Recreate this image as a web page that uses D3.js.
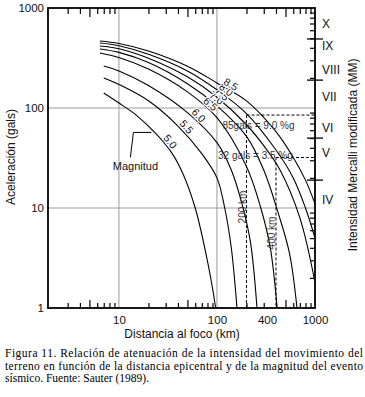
<!DOCTYPE html>
<html>
<head>
<meta charset="utf-8">
<script src="https://cdn.jsdelivr.net/npm/d3@7"></script>
<style>
  body { margin: 0; background: #fff; }
  svg { display: block; font-family: Arial, "Liberation Sans", sans-serif; }
</style>
</head>
<body>
<svg id="drawing_region"></svg>
<script>
// magnitude curves, [distance km, acceleration gals]
const magnitudes = ['5.0', '5.5', '6.0', '6.5', '7.0', '7.5', '8.0', '8.5'];
const m50 = [[7,141],[10,112],[15,85],[24,55],[35,35],[45,22],[60,10],[75,4],[88,1.8],[97,1]];
const m55 = [[7,200],[10,172],[20,118],[40,66],[70,35],[100,20],[120,10],[140,4],[160,1]];
const m60 = [[7,263],[10,235],[20,168],[50,90],[100,45],[140,24],[180,11],[220,4.5],[256,1]];
const m65 = [[6.4,355],[10,320],[20,245],[50,145],[100,80],[200,26],[280,10],[350,4],[411,1]];
const m70 = [[6.4,389],[10,360],[20,285],[50,175],[100,105],[200,52],[300,24],[420,9],[550,3.5],[655,1]];
const m75 = [[6.4,417],[10,392],[20,315],[50,205],[100,128],[200,68],[300,42],[440,24],[700,8],[1000,1.8]];
const m80 = [[6.4,447],[10,420],[20,345],[50,235],[100,152],[200,88],[400,38],[600,20],[800,10],[1000,5]];
const m85 = [[6.4,467],[10,442],[20,372],[50,262],[100,178],[200,118],[400,58],[600,32],[800,19],[1000,11]];
const curves = [m50, m55, m60, m65, m70, m75, m80, m85];

// axes
const yTicks = [1, 10, 100, 1000];
const xTickLabels = [10, 100, 400, 1000];
const gridKm = [10, 100];
const gridGals = [10, 100];

// Mercalli scale on the right
const mmLabels = ['X', 'IX', 'VIII', 'VII', 'VI', 'V', 'IV'];
const mmLabelGals = [700, 420, 240, 130, 63, 36, 12];
const mmBoundGals = [490, 190, 50, 19];

// dashed reference lines
const refKm = [200, 400];
const refGals = [85, 32];
const refText = ['85gals = 9.0 %g', '32 gals = 3.5 %g'];
const refKmText = ['200  km', '400  km'];

const caption = [
    'Figura 11. Relación de atenuación de la intensidad del movimiento del',
    'terreno en función de la distancia epicentral y de la magnitud del evento',
    'sísmico. Fuente: Sauter (1989).'
];

const svg = d3.select('#drawing_region')
    .attr('width', 365)
    .attr('height', 397);

const box = {left: 48, right: 315, top: 8, bottom: 308};

const x = d3.scaleLog().domain([1.89, 1000]).range([box.left, box.right]);
const y = d3.scaleLog().domain([1, 1000]).range([box.bottom, box.top]);

svg.append('defs').append('clipPath').attr('id', 'plotclip')
    .append('rect')
    .attr('x', box.left).attr('y', box.top)
    .attr('width', box.right - box.left).attr('height', box.bottom - box.top);

// grid
svg.append('g').selectAll('line').data(gridKm).enter().append('line')
    .attr('x1', d => x(d)).attr('x2', d => x(d))
    .attr('y1', box.top).attr('y2', box.bottom)
    .attr('stroke', '#9a9a9a').attr('stroke-width', 1);
svg.append('g').selectAll('line').data(gridGals).enter().append('line')
    .attr('y1', d => y(d)).attr('y2', d => y(d))
    .attr('x1', box.left).attr('x2', box.right)
    .attr('stroke', '#9a9a9a').attr('stroke-width', 1);

// minor ticks (the 5s are a bit longer)
const minorX = x.ticks().filter(d => d >= 3 && Math.log10(d) % 1 !== 0);
const minorY = y.ticks().filter(d => Math.log10(d) % 1 !== 0);
const isFive = d => Math.abs(d / Math.pow(10, Math.floor(Math.log10(d))) - 5) < 1e-6;

const bottomMinor = svg.append('g')
    .attr('transform', `translate(0, ${box.bottom})`)
    .call(d3.axisBottom(x).tickValues(minorX).tickSize(-5).tickFormat(''));
bottomMinor.selectAll('.tick line').filter(isFive).attr('y2', -8);

const topMinor = svg.append('g')
    .attr('transform', `translate(0, ${box.top})`)
    .call(d3.axisTop(x).tickValues(minorX).tickSize(-6).tickFormat(''));
topMinor.selectAll('.tick line').filter(isFive).attr('y2', 9);

svg.append('g')
    .attr('transform', `translate(${box.right}, 0)`)
    .call(d3.axisRight(y).tickValues(minorY).tickSize(-5).tickFormat(''));

svg.selectAll('.tick line').attr('stroke', '#000').attr('stroke-width', 1.2);
svg.selectAll('.domain').remove();

// tick labels
const xLab = svg.append('g')
    .attr('transform', `translate(0, ${box.bottom})`)
    .call(d3.axisBottom(x).tickValues(xTickLabels).tickSize(0).tickPadding(8).tickFormat(d3.format('d')));
xLab.select('.domain').remove();
xLab.selectAll('text').attr('font-size', 11.5).attr('fill', '#111')
    .attr('font-family', 'Arial, "Liberation Sans", sans-serif')
    .attr('dx', d => d === 400 ? -9 : 0);

const yLab = svg.append('g')
    .attr('transform', `translate(${box.left}, 0)`)
    .call(d3.axisLeft(y).tickValues(yTicks).tickSize(0).tickPadding(4).tickFormat(d3.format('d')));
yLab.select('.domain').remove();
yLab.selectAll('text').attr('font-size', 11.5).attr('fill', '#111')
    .attr('font-family', 'Arial, "Liberation Sans", sans-serif');

// Mercalli boundaries and labels
svg.append('g').selectAll('line').data(mmBoundGals).enter().append('line')
    .attr('x1', box.right - 8).attr('x2', box.right + 8)
    .attr('y1', d => y(d)).attr('y2', d => y(d))
    .attr('stroke', '#000').attr('stroke-width', 1.3);
svg.append('g').selectAll('text').data(mmLabels).enter().append('text')
    .attr('x', box.right + 7)
    .attr('y', (d, i) => y(mmLabelGals[i]))
    .attr('dy', '0.35em')
    .attr('font-size', 12)
    .attr('fill', '#111')
    .text(d => d);

// frame
svg.append('rect')
    .attr('x', box.left).attr('y', box.top)
    .attr('width', box.right - box.left).attr('height', box.bottom - box.top)
    .attr('fill', 'none').attr('stroke', '#000').attr('stroke-width', 1.8);

// dashed reference lines
const refs = svg.append('g').attr('clip-path', 'url(#plotclip)');
refKm.forEach((km, i) => {
    refs.append('line')
        .attr('x1', x(km)).attr('x2', x(km))
        .attr('y1', y(refGals[i])).attr('y2', y(1))
        .attr('stroke', '#000').attr('stroke-width', 1).attr('stroke-dasharray', '3,2');
    refs.append('line')
        .attr('x1', x(km)).attr('x2', x(1000))
        .attr('y1', y(refGals[i])).attr('y2', y(refGals[i]))
        .attr('stroke', '#000').attr('stroke-width', 1).attr('stroke-dasharray', '3,2');
});

// curves
const line = d3.line()
    .x(d => x(d[0]))
    .y(d => y(d[1]))
    .curve(d3.curveCatmullRom.alpha(0.5));

svg.append('g').attr('clip-path', 'url(#plotclip)')
    .selectAll('path').data(curves).enter().append('path')
    .attr('d', line)
    .attr('fill', 'none')
    .attr('stroke', '#000')
    .attr('stroke-width', 1.1);

// reference texts
refText.forEach((t, i) => {
    svg.append('text')
        .attr('x', i === 0 ? x(refKm[i]) - 24 : x(refKm[i]) - 58)
        .attr('y', i === 0 ? y(refGals[i]) + 14 : y(refGals[i]) + 2)
        .attr('font-size', 10)
        .attr('fill', '#333')
        .text(t);
});
refKmText.forEach((t, i) => {
    const cx = x(refKm[i]) - 4;
    const cy = i === 0 ? 207 : 233;
    svg.append('text')
        .attr('transform', `translate(${cx}, ${cy}) rotate(-90)`)
        .attr('text-anchor', 'middle')
        .attr('dy', '0.35em')
        .attr('font-size', 10)
        .attr('fill', '#333')
        .text(t);
});

// magnitude labels, placed where each curve meets a diagonal guide
const g0 = [165, 146], g1 = [245, 74];
function guideHit(pts) {
    const e = [g1[0] - g0[0], g1[1] - g0[1]];
    for (let i = 0; i < pts.length - 1; i++) {
        const p = pts[i], q = pts[i + 1];
        const d = [q[0] - p[0], q[1] - p[1]];
        const den = d[0] * e[1] - d[1] * e[0];
        if (den === 0) continue;
        const t = ((g0[0] - p[0]) * e[1] - (g0[1] - p[1]) * e[0]) / den;
        if (t >= 0 && t <= 1) {
            return {x: p[0] + t * d[0], y: p[1] + t * d[1], a: Math.atan2(d[1], d[0]) * 180 / Math.PI};
        }
    }
    return null;
}

curves.forEach((c, i) => {
    const h = guideHit(c.map(d => [x(d[0]), y(d[1])]));
    if (!h) return;
    const r = h.a * Math.PI / 180;
    svg.append('text')
        .attr('transform', `translate(${h.x + 6 * Math.sin(r)}, ${h.y - 6 * Math.cos(r)}) rotate(${h.a})`)
        .attr('text-anchor', 'middle')
        .attr('dy', '0.35em')
        .attr('font-size', 10.5)
        .attr('fill', '#111')
        .attr('stroke', '#fff')
        .attr('stroke-width', 2.5)
        .attr('paint-order', 'stroke')
        .text(magnitudes[i]);
});

// "Magnitud" annotation
const lead = [x(23) - 3, y(57)];
svg.append('polyline')
    .attr('points', [[lead[0], lead[1]], [lead[0] - 18, lead[1]], [lead[0] - 21, lead[1] + 25]].map(p => p.join(',')).join(' '))
    .attr('fill', 'none').attr('stroke', '#000').attr('stroke-width', 1);
svg.append('text')
    .attr('x', lead[0] - 16).attr('y', lead[1] + 38)
    .attr('text-anchor', 'middle')
    .attr('font-size', 11)
    .attr('fill', '#111')
    .text('Magnitud');

// axis titles
svg.append('text')
    .attr('x', 182).attr('y', 338)
    .attr('text-anchor', 'middle')
    .attr('font-size', 12)
    .attr('fill', '#111')
    .text('Distancia al foco (km)');
svg.append('text')
    .attr('transform', 'translate(11, 157) rotate(-90)')
    .attr('text-anchor', 'middle')
    .attr('dy', '0.35em')
    .attr('font-size', 12)
    .attr('fill', '#111')
    .text('Aceleración (gals)');
svg.append('text')
    .attr('transform', 'translate(353, 155) rotate(-90)')
    .attr('text-anchor', 'middle')
    .attr('dy', '0.35em')
    .attr('font-size', 12)
    .attr('fill', '#111')
    .text('Intensidad Mercalli modificada (MM)');

// caption
svg.append('g').selectAll('text').data(caption).enter().append('text')
    .attr('x', 5)
    .attr('y', (d, i) => 357 + i * 12.5)
    .attr('font-family', '"Liberation Serif", "Times New Roman", serif')
    .attr('font-size', 11.5)
    .attr('fill', '#000')
    .each(function (d, i) {
        if (i < 2) d3.select(this).attr('textLength', 358).attr('lengthAdjust', 'spacing');
    })
    .text(d => d);
</script>
</body>
</html>
